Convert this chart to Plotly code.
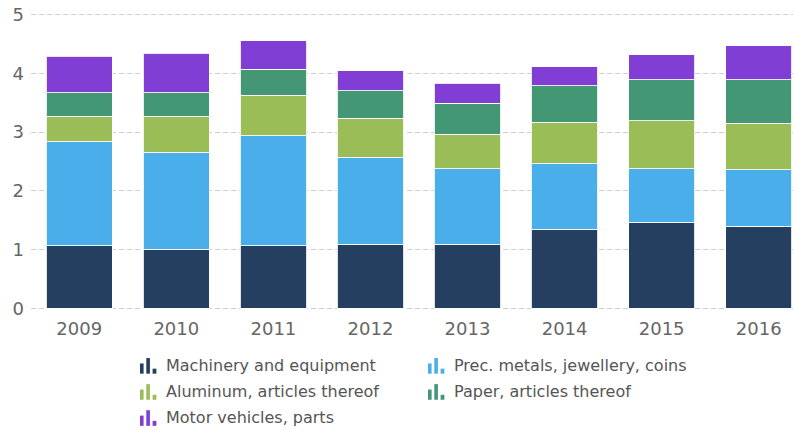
import plotly.graph_objects as go

years = ["2009", "2010", "2011", "2012", "2013", "2014", "2015", "2016"]
machinery = [1.07, 1.01, 1.07, 1.09, 1.09, 1.35, 1.47, 1.40]
prec_metals = [1.77, 1.65, 1.87, 1.48, 1.29, 1.11, 0.91, 0.96]
aluminum = [0.43, 0.61, 0.69, 0.67, 0.58, 0.71, 0.81, 0.79]
paper = [0.40, 0.40, 0.44, 0.46, 0.53, 0.62, 0.70, 0.74]
motor = [0.62, 0.67, 0.48, 0.34, 0.34, 0.32, 0.43, 0.58]

series_names = ["Machinery and equipment", "Prec. metals, jewellery, coins",
                "Aluminum, articles thereof", "Paper, articles thereof",
                "Motor vehicles, parts"]
series_values = [machinery, prec_metals, aluminum, paper, motor]
colors = ["#243f5f", "#4aaeea", "#9bbd57", "#439775", "#803ed5"]
y_ticks = [0, 1, 2, 3, 4, 5]

FONT = "DejaVu Sans"
W, H = 794, 430
# plot area: y=5 at px 15, y=0 at px 308; x from 31 to 793
Y0, Y1 = -0.06, 5.06
PX_TOP, PX_BOT = 15, 308
unit = (PX_BOT - PX_TOP) / 5.0
MT = PX_TOP - (Y1 - 5) * unit
MB = H - (PX_BOT + (0 - Y0) * unit)
ML, MR = 31, 1
PW, PH = W - ML - MR, H - MT - MB

fig = go.Figure()
for name, vals, col in zip(series_names, series_values, colors):
    fig.add_trace(go.Bar(
        x=years, y=vals, name=name, width=0.683,
        marker=dict(color=col, line=dict(color="rgba(255,255,255,0.85)", width=1)),
        showlegend=False,
    ))

# custom legend (icon + text), positions in pixels converted to paper coords
def px(x):
    return (x - ML) / PW

def py(y):
    return (H - MB - y) / PH

legend_pos = [(140, 365), (428, 365), (140, 391), (428, 391), (140, 417)]
shapes = []
annotations = []
for (lx, ly), name, col in zip(legend_pos, series_names, colors):
    bottom = ly + 8
    for dx, w, h in [(0, 3.6, 10.2), (6.3, 3.6, 15.6), (12.6, 3.8, 5)]:
        shapes.append(dict(type="rect", xref="paper", yref="paper",
                           x0=px(lx + dx), x1=px(lx + dx + w),
                           y0=py(bottom), y1=py(bottom - h),
                           fillcolor=col, line=dict(width=0), layer="above"))
    annotations.append(dict(text=name, xref="paper", yref="paper",
                            x=px(lx + 24), y=py(ly), xanchor="left", yanchor="middle",
                            showarrow=False, font=dict(family=FONT, size=16, color="#555555")))

fig.update_layout(
    width=W, height=H,
    margin=dict(l=ML, r=MR, t=MT, b=MB, pad=0),
    barmode="stack", bargap=0.3,
    plot_bgcolor="white", paper_bgcolor="white",
    font=dict(family=FONT, size=18, color="#666666"),
    shapes=shapes, annotations=annotations,
    xaxis=dict(type="category", range=[-0.497, 7.353], showgrid=False,
               showline=False, zeroline=False, ticks="", automargin=False,
               ticklabelstandoff=4,
               tickfont=dict(family=FONT, size=18, color="#666666")),
    yaxis=dict(range=[Y0, Y1], tickvals=y_ticks, showgrid=True,
               gridcolor="#cfcfcf", griddash="5px,3px", gridwidth=1,
               zeroline=False, showline=False, ticks="", automargin=False,
               ticklabelstandoff=6, layer="below traces",
               tickfont=dict(family=FONT, size=18, color="#666666")),
)

fig.write_html("out.html", config={"displayModeBar": False},
               post_script="document.body.style.margin='0';")
